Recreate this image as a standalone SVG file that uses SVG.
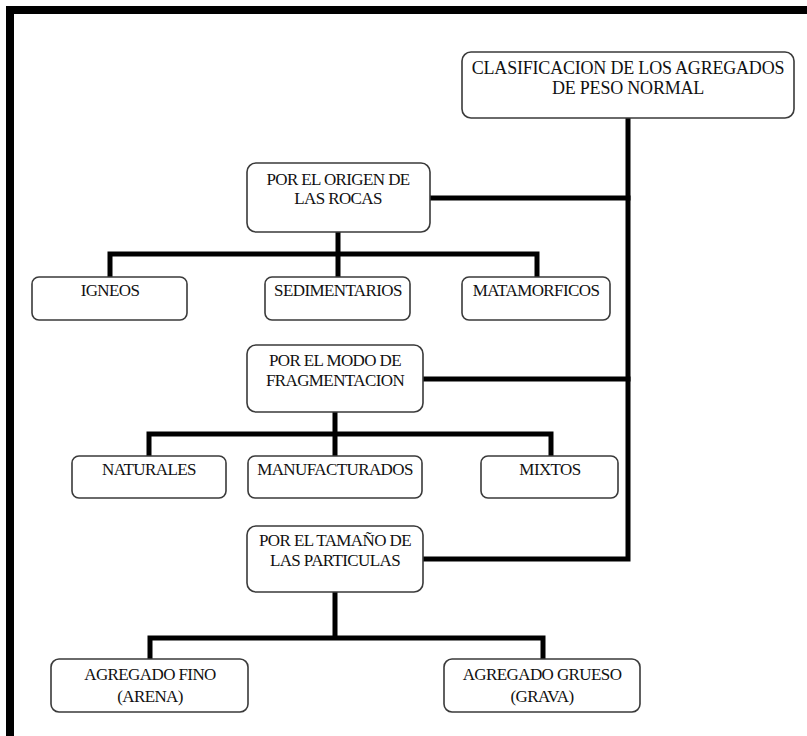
<svg xmlns="http://www.w3.org/2000/svg" width="807" height="736" viewBox="0 0 807 736">
<style>
.box{fill:#fff;stroke:#3a3a3a;stroke-width:1.6}
.t{font-family:"Liberation Serif","Times New Roman",serif;font-size:17px;letter-spacing:-0.6px;fill:#111;text-anchor:middle}
.tl{font-size:18px;letter-spacing:-0.2px}
.c{fill:none;stroke:#000;stroke-width:5;stroke-linejoin:miter;stroke-linecap:square}
</style>
<rect x="0" y="0" width="807" height="736" fill="#fff"/>
<g id="frame">
<rect x="6" y="6" width="801" height="8" fill="#000"/>
<rect x="6" y="6" width="8" height="730" fill="#000"/>
</g>
<g id="connectors">
<path class="c" d="M628 119 V559 H424"/>
<path class="c" d="M431 198 H628"/>
<path class="c" d="M423 379 H628"/>
<path class="c" d="M338 233 V254 M110 277 V254 H537 V277 M338 254 V277"/>
<path class="c" d="M335 413 V434 M149 456 V434 H551 V456 M335 434 V456"/>
<path class="c" d="M335 593 V638 M150 659 V638 H543 V659"/>
</g>
<g id="n-root">
<rect class="box" x="462" y="52" width="332" height="66" rx="9"/>
<text class="t tl" x="628" y="74">CLASIFICACION DE LOS AGREGADOS</text>
<text class="t tl" x="628" y="94">DE PESO NORMAL</text>
</g>
<g id="n-origen">
<rect class="box" x="247" y="163" width="183" height="69" rx="9"/>
<text class="t" x="338" y="185">POR EL ORIGEN DE</text>
<text class="t" x="338" y="204">LAS ROCAS</text>
</g>
<g id="n-igneos">
<rect class="box" x="32" y="277" width="155" height="43" rx="7"/>
<text class="t" x="110" y="296">IGNEOS</text>
</g>
<g id="n-sedimentarios">
<rect class="box" x="265" y="277" width="145" height="43" rx="7"/>
<text class="t" x="338" y="296">SEDIMENTARIOS</text>
</g>
<g id="n-matamorficos">
<rect class="box" x="462" y="277" width="148" height="43" rx="7"/>
<text class="t" x="536" y="296">MATAMORFICOS</text>
</g>
<g id="n-modo">
<rect class="box" x="247" y="345" width="176" height="67" rx="9"/>
<text class="t" x="335" y="366">POR EL MODO DE</text>
<text class="t" x="335" y="386">FRAGMENTACION</text>
</g>
<g id="n-naturales">
<rect class="box" x="72" y="456" width="154" height="42" rx="7"/>
<text class="t" x="149" y="475">NATURALES</text>
</g>
<g id="n-manufacturados">
<rect class="box" x="248" y="456" width="174" height="42" rx="7"/>
<text class="t" x="335" y="475">MANUFACTURADOS</text>
</g>
<g id="n-mixtos">
<rect class="box" x="481" y="456" width="137" height="42" rx="7"/>
<text class="t" x="550" y="475">MIXTOS</text>
</g>
<g id="n-tamano">
<rect class="box" x="247" y="526" width="176" height="66" rx="9"/>
<text class="t" x="335" y="546">POR EL TAMAÑO DE</text>
<text class="t" x="335" y="566">LAS PARTICULAS</text>
</g>
<g id="n-fino">
<rect class="box" x="51" y="659" width="197" height="53" rx="8"/>
<text class="t" x="150" y="680">AGREGADO FINO</text>
<text class="t" x="150" y="702">(ARENA)</text>
</g>
<g id="n-grueso">
<rect class="box" x="444" y="659" width="196" height="53" rx="8"/>
<text class="t" x="542" y="680">AGREGADO GRUESO</text>
<text class="t" x="542" y="702">(GRAVA)</text>
</g>
</svg>
